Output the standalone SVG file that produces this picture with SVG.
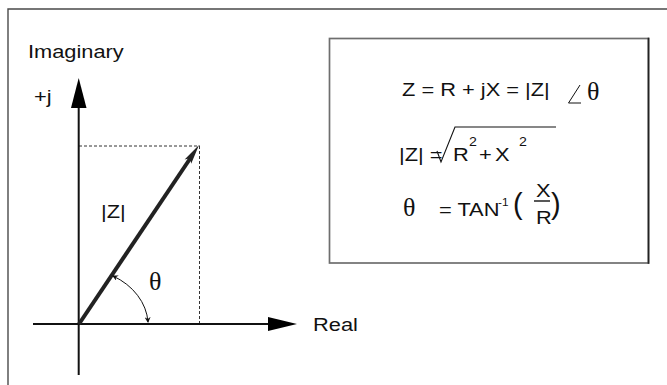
<svg xmlns="http://www.w3.org/2000/svg" width="667" height="385" viewBox="0 0 667 385">
<style>
.t{font-family:"Liberation Sans",Arial,sans-serif;font-size:18.5px;fill:#111}
.s{font-family:"Liberation Sans",Arial,sans-serif;font-size:12px;fill:#111}
.g{font-family:"Liberation Serif","Times New Roman",serif;font-size:26px;fill:#111}
.dash{stroke:#333;stroke-width:1;stroke-dasharray:3 2;fill:none}
.ax{stroke:#111;stroke-width:2;fill:none}
</style>
<defs>
<marker id="sm" viewBox="0 0 6 6" refX="5" refY="3" markerWidth="6" markerHeight="6" markerUnits="userSpaceOnUse" orient="auto-start-reverse">
<path d="M0,0 L6,3 L0,6 L2,3 Z" fill="#111"/>
</marker>
</defs>
<rect width="667" height="385" fill="#fff"/>
<g id="frame">
<path d="M8,385 V9 H667" stroke="#4a4a4a" stroke-width="1.4" fill="none"/>
</g>
<g id="connectors">
<line class="dash" x1="79" y1="146" x2="200" y2="146"/>
<line class="dash" x1="199.5" y1="146" x2="199.5" y2="324"/>
<line class="ax" x1="78.7" y1="100" x2="78.7" y2="375"/>
<polygon points="78.7,78 71,108 86.5,108" fill="#000"/>
<line class="ax" x1="33" y1="324" x2="275" y2="324"/>
<polygon points="297,324 268,317 268,331" fill="#000"/>
<line x1="79" y1="324" x2="190.5" y2="158" stroke="#222" stroke-width="4"/>
<polygon points="199,145 191.2,163.8 190.1,158.3 184.6,159.4" fill="#222"/>
<path d="M113,276 A69 57 0 0 1 148,322" fill="none" stroke="#111" stroke-width="1" marker-start="url(#sm)" marker-end="url(#sm)"/>
</g>
<g id="axis-labels">
<text class="t" transform="translate(28 0) scale(1.18 1)" x="0" y="58">Imaginary</text>
<text class="t" transform="translate(34 0) scale(1.18 1)" x="0" y="103">+j</text>
<text class="t" transform="translate(313 0) scale(1.18 1)" x="0" y="331">Real</text>
<text class="t" transform="translate(101 0) scale(1.18 1)" x="0" y="218">|Z|</text>
<text class="g" x="149" y="290">θ</text>
</g>
<g id="formula-box">
<rect x="329.5" y="38.5" width="319" height="224.5" fill="none" stroke="#6e6e6e" stroke-width="1.7"/>
<line x1="648.5" y1="37.7" x2="648.5" y2="263.8" stroke="#222" stroke-width="1.7"/>
<text class="t" transform="translate(402 0) scale(1.18 1)" x="0" y="96">Z = R + jX = |Z|</text>
<path d="M580,85 L568.5,103 H581" fill="none" stroke="#111" stroke-width="1"/>
<text class="g" x="587" y="100">θ</text>
<text class="t" transform="translate(399 0) scale(1.18 1)" x="0" y="161">|Z| =</text>
<path d="M437,151 L441,162 L455,127 H556" fill="none" stroke="#111" stroke-width="1.1"/>
<text class="t" transform="translate(453 0) scale(1.18 1)" x="0" y="161">R</text>
<text class="s" transform="translate(469 0) scale(1.18 1)" x="0" y="146">2</text>
<text class="t" transform="translate(479 0) scale(1.18 1)" x="0" y="161">+</text>
<text class="t" transform="translate(495 0) scale(1.18 1)" x="0" y="161">X</text>
<text class="s" transform="translate(519 0) scale(1.18 1)" x="0" y="146">2</text>
<text class="g" x="403" y="216">θ</text>
<text class="t" transform="translate(439 0) scale(1.18 1)" x="0" y="216">= TAN</text>
<text class="s" transform="translate(498 0) scale(1.18 1)" x="0" y="206" style="font-size:10px">-1</text>
<text class="t" x="513" y="214" style="font-size:29px">(</text>
<text class="t" transform="translate(536 0) scale(1.18 1)" x="0" y="197">X</text>
<line x1="534" y1="201" x2="550" y2="201" stroke="#111" stroke-width="1.4"/>
<text class="t" transform="translate(536 0) scale(1.18 1)" x="0" y="224">R</text>
<text class="t" x="551" y="214" style="font-size:29px">)</text>
</g>
</svg>
